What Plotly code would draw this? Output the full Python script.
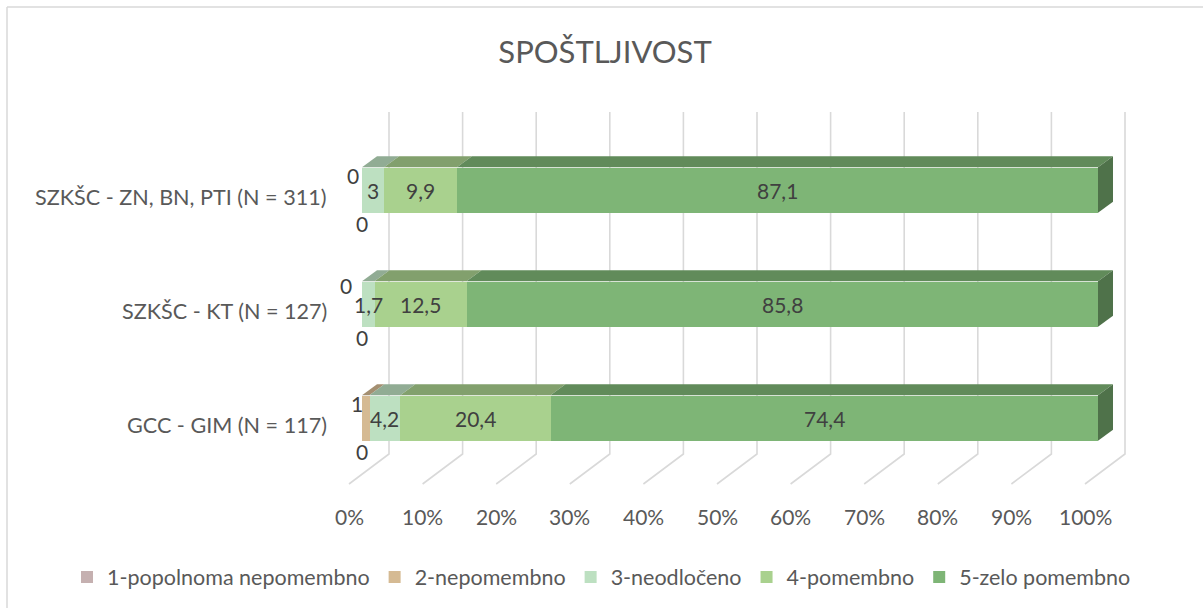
import plotly.graph_objects as go

# ---------------- data ----------------
categories = ["GCC - GIM (N = 117)", "SZKŠC - KT (N = 127)", "SZKŠC - ZN, BN, PTI (N = 311)"]
series_names = ["1-popolnoma nepomembno", "2-nepomembno", "3-neodločeno", "4-pomembno", "5-zelo pomembno"]
s1_popolnoma_nepomembno = [0, 0, 0]
s2_nepomembno = [1, 0, 0]
s3_neodloceno = [4.2, 1.7, 3]
s4_pomembno = [20.4, 12.5, 9.9]
s5_zelo_pomembno = [74.4, 85.8, 87.1]
tick_values = [0, 10, 20, 30, 40, 50, 60, 70, 80, 90, 100]
tick_labels = ["0%", "10%", "20%", "30%", "40%", "50%", "60%", "70%", "80%", "90%", "100%"]
title_text = "SPOŠTLJIVOST"

series = [s1_popolnoma_nepomembno, s2_nepomembno, s3_neodloceno, s4_pomembno, s5_zelo_pomembno]

# ---------------- style ----------------
colors = ["#C5B0B0", "#D5BA93", "#BDE0C1", "#A9D18E", "#7EB576"]
FONT = "Lato"
TXT = "#595959"
LBL = "#404040"
GRID = "#D9D9D9"
FS = 21

W, H = 1203, 608
X0PX, PPUX = 362.0, 7.36      # pixel of 0 %, pixels per percent (front plane)
Y0PX, PPUY = 418.0, 114.0     # pixel of first category, pixels per category
XR = [-6, 105]
YR = [-0.7, 2.75]
xdom = [(X0PX + XR[0] * PPUX) / W, (X0PX + XR[1] * PPUX) / W]
ydom = [(H - (Y0PX - YR[0] * PPUY)) / H, (H - (Y0PX - YR[1] * PPUY)) / H]

def ux(px):
    return px / PPUX

def uy(px):  # pixel offset upward -> category units
    return px / PPUY

def ypix(p):  # absolute pixel row -> category units
    return (Y0PX - p) / PPUY

def shade(hexc, f):
    h = hexc.lstrip("#")
    r, g, b = (int(h[i:i + 2], 16) for i in (0, 2, 4))
    return "#%02X%02X%02X" % (int(r * f), int(g * f), int(b * f))

BAR_W = 0.4
DEPTH_X, DEPTH_Y = ux(15), uy(11)

fig = go.Figure()
for name, vals, col in zip(series_names, series, colors):
    fig.add_trace(go.Bar(
        y=categories, x=vals, name=name, orientation="h",
        marker=dict(color=col, line=dict(width=0)), width=BAR_W,
        hoverinfo="x+name",
    ))

shapes = []
annotations = []

# gridlines: back wall + floor slant
back_dx = ux(27)
floor_front_dx = ux(-13)
y_top = ypix(112)
y_floor_back = ypix(454)
y_floor_front = ypix(484)
for t, lab in zip(tick_values, tick_labels):
    shapes.append(dict(type="path", layer="below", xref="x", yref="y",
                       path=f"M {t + back_dx},{y_top} L {t + back_dx},{y_floor_back} L {t + floor_front_dx},{y_floor_front}",
                       line=dict(color=GRID, width=1.6)))
    annotations.append(dict(x=t + floor_front_dx, y=(H - 516) / H, xref="x", yref="paper", text=lab,
                            showarrow=False, xanchor="center", yanchor="middle",
                            font=dict(family=FONT, size=FS, color=TXT)))

# 3D faces and labels
for i, cat in enumerate(categories):
    cum = 0.0
    yt = i + BAR_W / 2
    yb = i - BAR_W / 2
    for k, vals in enumerate(series):
        v = vals[i]
        x0, x1 = cum, cum + v
        if v > 0:
            shapes.append(dict(type="path", layer="above", xref="x", yref="y",
                               path=f"M {x0},{yt} L {x1},{yt} L {x1 + DEPTH_X},{yt + DEPTH_Y} L {x0 + DEPTH_X},{yt + DEPTH_Y} Z",
                               fillcolor=shade(colors[k], 0.77), line=dict(width=0)))
        txt = f"{v:g}".replace(".", ",")
        mid = (x0 + x1) / 2
        if k == 0:
            annotations.append(dict(x=mid, y=yb, xref="x", yref="y", text=txt, showarrow=False,
                                    xanchor="center", yanchor="middle", yshift=-11,
                                    font=dict(family=FONT, size=FS, color=LBL)))
        elif k == 1:
            # push label away when the following label is wider than its segment
            crowded = series[2][i] * PPUX < 20
            annotations.append(dict(x=mid, y=yt, xref="x", yref="y", text=txt, showarrow=False,
                                    xanchor="right", yanchor="middle",
                                    yshift=-4 if crowded else -8, xshift=-8 if crowded else -1,
                                    font=dict(family=FONT, size=FS, color=LBL)))
        else:
            annotations.append(dict(x=mid, y=i, xref="x", yref="y", text=txt, showarrow=False,
                                    xanchor="center", yanchor="middle",
                                    font=dict(family=FONT, size=FS, color=LBL)))
        cum = x1
    # right side face
    last = len(series) - 1
    shapes.append(dict(type="path", layer="above", xref="x", yref="y",
                       path=f"M {cum},{yb} L {cum},{yt} L {cum + DEPTH_X},{yt + DEPTH_Y} L {cum + DEPTH_X},{yb + DEPTH_Y} Z",
                       fillcolor=shade(colors[last], 0.63), line=dict(width=0)))
    # category label
    annotations.append(dict(x=0, y=i, xref="x", yref="y", text=cat, showarrow=False,
                            xanchor="right", yanchor="middle", xshift=-33, yshift=-7,
                            font=dict(family=FONT, size=21.6, color=TXT)))

# chart border (top and left visible)
shapes.append(dict(type="line", xref="paper", yref="paper", x0=7 / W, x1=1.0, y0=1 - 7 / H, y1=1 - 7 / H,
                   line=dict(color=GRID, width=1.5)))
shapes.append(dict(type="line", xref="paper", yref="paper", x0=7 / W, x1=7 / W, y0=0, y1=1 - 7 / H,
                   line=dict(color=GRID, width=1.5)))

fig.update_layout(
    width=W, height=H, autosize=False,
    margin=dict(l=0, r=0, t=0, b=0),
    paper_bgcolor="white", plot_bgcolor="rgba(0,0,0,0)",
    barmode="stack", bargap=0,
    title=dict(text=title_text, x=605 / W, xanchor="center", y=1 - 52 / H, yanchor="middle",
               font=dict(family=FONT, size=31, color=TXT)),
    xaxis=dict(range=XR, domain=xdom, showgrid=False, zeroline=False, showticklabels=False,
               showline=False, fixedrange=True),
    yaxis=dict(range=YR, domain=ydom, type="category", categoryorder="array", categoryarray=categories,
               showgrid=False, zeroline=False, showticklabels=False, showline=False, fixedrange=True),
    legend=dict(orientation="h", x=0.5, xanchor="center", y=(H - 577) / H, yanchor="middle",
                font=dict(family=FONT, size=21.5, color=TXT), traceorder="normal",
                itemwidth=30, bgcolor="rgba(0,0,0,0)"),
    shapes=shapes, annotations=annotations, showlegend=True,
)

fig.write_html("out.html", config={"displayModeBar": False},
               post_script="document.body.style.margin='0';document.body.style.overflow='hidden';")
